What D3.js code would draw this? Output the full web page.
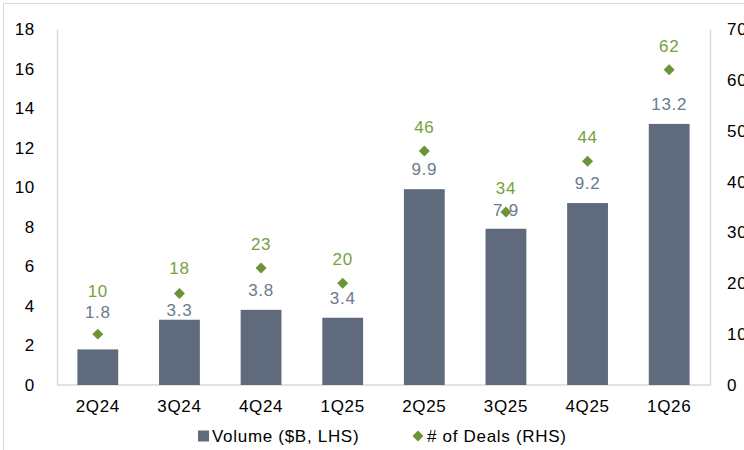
<!DOCTYPE html>
<html><head><meta charset="utf-8">
<script src="https://cdn.jsdelivr.net/npm/d3@7"></script>
<style>body{margin:0;background:#fff}svg{display:block;font-family:"Liberation Sans",Arial,sans-serif}</style>
</head><body><svg id="c" width="744" height="450"></svg>
<script>
const categories = ["2Q24","3Q24","4Q24","1Q25","2Q25","3Q25","4Q25","1Q26"];
const volume = [1.8,3.3,3.8,3.4,9.9,7.9,9.2,13.2];
const deals = [10,18,23,20,46,34,44,62];
const leftTicks = [0,2,4,6,8,10,12,14,16,18];
const rightTicks = [0,10,20,30,40,50,60,70];
const legendLabels = ["Volume ($B, LHS)","# of Deals (RHS)"];

// label placement (pixels above mark), as positioned in the original chart
const barLabelOffset = [37,10,20,20,20,19,20,20];
const dealLabelOffset = [43,25,24,24,24,24,24,24];

const barColor = "#5f6b7c", barLabel = "#6b7a90", green = "#6b9338", greenLabel = "#78a040", axisCol = "#d9d9d9";
const FS = 17, LS = "0.7px";
const svg = d3.select("#c");
svg.append("rect").attr("x",3.5).attr("y",3.5).attr("width",800).attr("height",600).attr("fill","none").attr("stroke","#d9d9d9");

const L = 57, R = 710, T = 29, B = 385;
const x = d3.scaleBand().domain(categories).range([L,R]).paddingInner(0.5).paddingOuter(0.25);
const yL = d3.scaleLinear().domain([0,18]).range([B,T]);
const yR = d3.scaleLinear().domain([0,70]).range([B,T]);

// axes
const gl = svg.append("g").attr("transform",`translate(${L},0)`).call(d3.axisLeft(yL).tickValues(leftTicks).tickSize(0).tickPadding(22));
const gr = svg.append("g").attr("transform",`translate(${R},0)`).call(d3.axisRight(yR).tickValues(rightTicks).tickSize(0).tickPadding(17));
const gb = svg.append("g").attr("transform",`translate(0,${B})`).call(d3.axisBottom(x).tickSize(0).tickPadding(15));
[gl,gr,gb].forEach(g=>{g.select(".domain").attr("stroke",axisCol).attr("stroke-width",1.5);
  g.selectAll("text").attr("fill","#000").attr("font-size",FS).attr("letter-spacing",LS).attr("font-family","Liberation Sans, Arial, sans-serif");});
gb.select(".domain").remove();
svg.append("line").attr("x1",L).attr("x2",R).attr("y1",B).attr("y2",B).attr("stroke",axisCol).attr("stroke-width",1.5);

// bars
svg.selectAll(".bar").data(volume).join("rect").attr("class","bar")
  .attr("x",(d,i)=>x(categories[i])).attr("width",x.bandwidth())
  .attr("y",d=>yL(d)).attr("height",d=>B-yL(d)).attr("fill",barColor);
svg.selectAll(".bl").data(volume).join("text").attr("class","bl")
  .attr("x",(d,i)=>x(categories[i])+x.bandwidth()/2).attr("y",(d,i)=>yL(d)-barLabelOffset[i])
  .attr("dy","0.35em").attr("text-anchor","middle").attr("fill",barLabel).attr("font-size",FS).attr("letter-spacing",LS)
  .text(d=>d.toFixed(1));

// diamonds
const sym = d3.symbol().type(d3.symbolSquare).size(60);
svg.selectAll(".dm").data(deals).join("path").attr("class","dm")
  .attr("transform",(d,i)=>`translate(${x(categories[i])+x.bandwidth()/2},${yR(d)}) rotate(45)`)
  .attr("d",sym).attr("fill",green);
svg.selectAll(".dl").data(deals).join("text").attr("class","dl")
  .attr("x",(d,i)=>x(categories[i])+x.bandwidth()/2).attr("y",(d,i)=>yR(d)-dealLabelOffset[i])
  .attr("dy","0.35em").attr("text-anchor","middle").attr("fill",greenLabel).attr("font-size",FS).attr("letter-spacing",LS)
  .text(d=>d);

// legend
const ly = 436;
svg.append("rect").attr("x",198).attr("y",ly-5.5).attr("width",11).attr("height",11).attr("fill",barColor);
svg.append("text").attr("x",212).attr("y",ly).attr("dy","0.35em").attr("font-size",FS).attr("letter-spacing",LS).text(legendLabels[0]);
svg.append("path").attr("transform",`translate(418,${ly}) rotate(45)`).attr("d",sym).attr("fill",green);
svg.append("text").attr("x",427).attr("y",ly).attr("dy","0.35em").attr("font-size",FS).attr("letter-spacing",LS).text(legendLabels[1]);
</script></body></html>
